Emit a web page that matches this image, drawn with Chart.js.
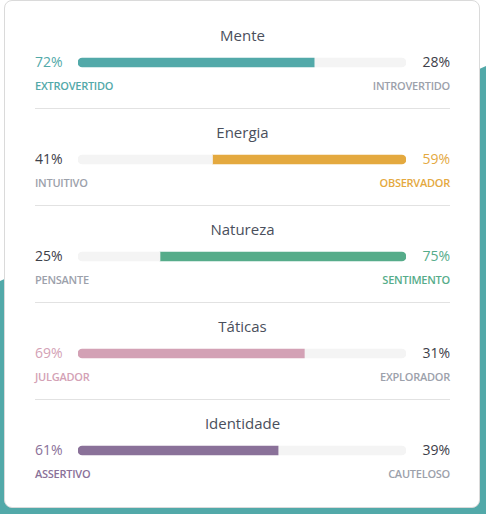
<!DOCTYPE html>
<html><head><meta charset="utf-8">
<script src="https://cdn.jsdelivr.net/npm/chart.js@4.4.1/dist/chart.umd.min.js"></script>
<style>
html,body{margin:0;padding:0;width:486px;height:514px;overflow:hidden;background:#fff;font-family:"Open Sans",sans-serif;}
#bg{position:absolute;left:0;top:0;width:486px;height:514px;background:#52a9a9;clip-path:polygon(0 281px,486px 66px,486px 514px,0 514px);}
#card{position:absolute;left:4px;top:0px;width:474px;height:506px;background:#fff;border:1px solid #dadada;border-radius:8px;}
.row{position:absolute;left:30px;width:415px;height:97px;}
.title{position:absolute;left:0;width:100%;top:24px;height:20px;line-height:20px;font-size:15px;color:#4a4f5c;text-align:center;}
.pct{position:absolute;top:52px;height:18px;line-height:18px;font-size:14px;color:#3d4049;}
.pct.l{left:0;} .pct.r{right:0;}
.lab{position:absolute;top:77px;height:15px;line-height:15px;font-size:11px;font-weight:600;letter-spacing:-0.25px;color:#9ca1ab;}
.lab.l{left:0;} .lab.r{right:0;}
.sep{position:absolute;left:0;width:100%;top:107px;height:1px;background:#e2e2e2;}
canvas{position:absolute;left:43px;top:54px;}
</style></head>
<body>
<div id="bg"></div>
<div id="card"></div>
<script>
const categories = ["Mente", "Energia", "Natureza", "Táticas", "Identidade"];
const leftNames = ["EXTROVERTIDO", "INTUITIVO", "PENSANTE", "JULGADOR", "ASSERTIVO"];
const rightNames = ["INTROVERTIDO", "OBSERVADOR", "SENTIMENTO", "EXPLORADOR", "CAUTELOSO"];
const leftValues = [72, 41, 25, 69, 61];
const rightValues = [28, 59, 75, 31, 39];
const colors = ["#52a9a9", "#e4a93f", "#56ac8a", "#d3a1b5", "#8a7199"];
const trackColor = "#f4f4f4";

const card = document.getElementById('card');
categories.forEach((cat, i) => {
  const row = document.createElement('div');
  row.className = 'row';
  row.style.top = (i * 97) + 'px';
  const leftDom = leftValues[i] >= rightValues[i];
  const c = colors[i];
  row.innerHTML =
    '<div class="title">' + cat + '</div>' +
    '<div class="pct l" style="color:' + (leftDom ? c : '#3d4049') + '">' + leftValues[i] + '%</div>' +
    '<div class="pct r" style="color:' + (!leftDom ? c : '#3d4049') + '">' + rightValues[i] + '%</div>' +
    '<div class="lab l" style="color:' + (leftDom ? c : '#9ca1ab') + '">' + leftNames[i] + '</div>' +
    '<div class="lab r" style="color:' + (!leftDom ? c : '#9ca1ab') + '">' + rightNames[i] + '</div>' +
    (i < categories.length - 1 ? '<div class="sep"></div>' : '');
  const cv = document.createElement('canvas');
  cv.width = 328; cv.height = 15;
  cv.style.width = '328px'; cv.style.height = '15px';
  row.appendChild(cv);
  card.appendChild(row);
  new Chart(cv, {
    type: 'bar',
    data: {
      labels: [cat],
      datasets: [
        { data: [leftValues[i]], backgroundColor: leftDom ? c : trackColor,
          borderRadius: {topLeft: 5, bottomLeft: 5, topRight: 0, bottomRight: 0},
          borderSkipped: false, barThickness: 9 },
        { data: [rightValues[i]], backgroundColor: leftDom ? trackColor : c,
          borderRadius: {topLeft: 0, bottomLeft: 0, topRight: 5, bottomRight: 5},
          borderSkipped: false, barThickness: 9 }
      ]
    },
    options: {
      indexAxis: 'y', responsive: false, animation: false, events: [],
      devicePixelRatio: 1,
      layout: {padding: 0},
      plugins: {legend: {display: false}, tooltip: {enabled: false}},
      scales: {
        x: {stacked: true, min: 0, max: 100, display: false},
        y: {stacked: true, display: false}
      }
    }
  });
});
</script>
</body></html>
